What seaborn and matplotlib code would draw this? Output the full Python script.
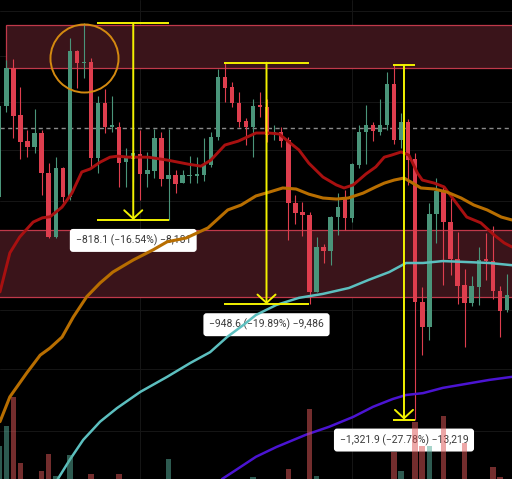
import numpy as np
import matplotlib
matplotlib.use("Agg")
import matplotlib.pyplot as plt
from matplotlib.patches import Rectangle
import seaborn as sns

# candle data (price, log scale chart), one entry per bar
opens = [4216, 4583, 4746, 4545, 4438, 4414, 4471, 4310, 4064, 4330,
         4216, 4821, 4768, 4772, 4369, 4595, 4496, 4496, 4353, 4365,
         4386, 4306, 4318, 4450, 4286, 4302, 4270, 4298, 4298, 4302,
         4341, 4454, 4707, 4664, 4595, 4521, 4496, 4587, 4579, 4467,
         4475, 4442, 4193, 4158, 4147, 3864, 4027, 4012, 4139, 4212,
         4136, 4341, 4475, 4504, 4475, 4504, 4677, 4442, 4517, 4365,
         3829, 3741, 4151, 4243, 4120, 3983, 3889, 3825, 3882, 3983,
         3975, 3868, 3800]
closes = [4583, 4746, 4541, 4434, 4414, 4471, 4310, 4064, 4330, 4216,
          4821, 4768, 4772, 4369, 4595, 4496, 4504, 4349, 4369, 4390,
          4306, 4322, 4450, 4286, 4302, 4266, 4302, 4302, 4306, 4341,
          4454, 4707, 4660, 4595, 4517, 4496, 4583, 4579, 4463, 4475,
          4438, 4193, 4155, 4147, 3864, 4027, 4012, 4139, 4177, 4136,
          4345, 4475, 4504, 4479, 4504, 4677, 4442, 4517, 4361, 3829,
          3741, 4151, 4239, 4120, 3983, 3885, 3825, 3885, 3979, 3975,
          3868, 3797, 3854]
highs = [4591, 4781, 4785, 4664, 4483, 4570, 4483, 4349, 4373, 4334,
         4878, 4825, 4946.2, 4790, 4625, 4655, 4625, 4517, 4410, 4410,
         4483, 4394, 4487, 4475, 4487, 4322, 4322, 4377, 4373, 4450,
         4475, 4741, 4769.2, 4686, 4642, 4533, 4612, 4642, 4612, 4504,
         4496, 4454, 4224, 4196, 4158, 4064, 4038, 4143, 4231, 4243,
         4349, 4504, 4587, 4517, 4612, 4728, 4758.5, 4554, 4529, 4390,
         3882, 4193, 4290, 4259, 4212, 4083, 3946, 3921, 4027, 4079,
         4105, 3885, 3928]
lows = [4208, 4558, 4450, 4365, 4373, 4390, 4224, 4060, 4060, 4196,
        4204, 4660, 4703, 4330, 4310, 4471, 4475, 4255, 4255, 4274,
        4204, 4255, 4290, 4259, 4128.1, 4231, 4270, 4270, 4270, 4278,
        4334, 4442, 4600, 4579, 4496, 4422, 4373, 4537, 4434, 4442,
        4414, 4053, 4113, 4068, 3820.6, 3864, 3968, 3960, 4071, 4090,
        4120, 4330, 4345, 4438, 4463, 4483, 4426, 4410, 4263, 3436.6,
        3646, 3697, 4042, 3889, 3925, 3822, 3673, 3815, 3818, 3907,
        3839, 3707, 3793]
volume = [69, 111, 171, 33, 0, 0, 17, 52, 6, 0,
          50, 0, 0, 10, 0, 0, 0, 10, 0, 0,
          0, 0, 0, 0, 42, 0, 0, 0, 0, 0,
          0, 0, 0, 0, 0, 0, 4, 0, 0, 0,
          0, 21, 0, 0, 146, 6, 0, 0, 0, 0,
          0, 0, 0, 0, 0, 0, 56, 17, 0, 119,
          69, 69, 0, 132, 0, 0, 75, 0, 0, 0,
          25, 4, 0]

# moving averages, read at bar positions
ma_red_x = [0.1, 1.5, 2.9, 4.8, 6.1, 7.2, 8.9, 10.3, 11.7, 12.9, 14.3, 15.7, 16.8,
            18.3, 21.1, 23.9, 26.8, 28.6, 30.0, 32.0, 33.9, 36.4, 38.3, 39.7, 41.1,
            42.5, 43.9, 45.9, 47.8, 48.9, 50.2, 52.0, 53.4, 54.6, 55.6, 57.0, 58.1,
            59.3, 60.0, 61.7, 63.1, 64.5, 66.3, 68.3, 70.2, 71.6, 72.7]
ma_red_y = [3864, 4005, 4064, 4120, 4136, 4140, 4177, 4231, 4314, 4326, 4353, 4373, 4377,
            4373, 4373, 4361, 4345, 4337, 4361, 4422, 4438, 4471, 4471, 4467, 4434,
            4402, 4349, 4294, 4263, 4251, 4263, 4306, 4334, 4373, 4381, 4394, 4381,
            4310, 4282, 4270, 4255, 4204, 4139, 4117, 4071, 4042, 4027]
ma_orange_x = [0.1, 1.5, 3.9, 5.8, 7.2, 8.9, 10.5, 12.4, 14.3, 16.1, 19.0, 21.8, 23.8,
               26.5, 29.6, 32.4, 34.3, 36.4, 38.3, 40.2, 42.1, 43.9, 45.9, 47.8, 49.5,
               51.6, 53.4, 54.6, 56.0, 57.4, 58.4, 59.8, 61.7, 63.5, 65.5, 67.3, 69.2,
               71.2, 72.7]
ma_orange_y = [3430, 3509, 3587, 3646, 3670, 3707, 3776, 3847, 3896, 3935, 3979, 4016, 4046,
               4060, 4098, 4166, 4185, 4220, 4235, 4251, 4247, 4227, 4212, 4208, 4212,
               4231, 4255, 4270, 4282, 4290, 4274, 4251, 4247, 4235, 4212, 4185, 4166,
               4139, 4128]
ma_teal_x = [8.3, 10.0, 11.9, 14.3, 16.7, 20.0, 23.8, 27.1, 29.9, 32.3, 34.6, 36.4,
             39.3, 42.5, 45.9, 49.6, 52.4, 55.3, 57.7, 60.1, 62.9, 65.8, 69.5, 72.7]
ma_teal_y = [3254, 3312, 3373, 3430, 3473, 3525, 3574, 3620, 3656, 3707, 3748, 3783,
             3818, 3843, 3857, 3878, 3907, 3935, 3968, 3968, 3975, 3972, 3968, 3960]
ma_purple_x = [31.6, 33.2, 36.4, 39.3, 43.5, 46.8, 50.2, 53.0, 55.8, 57.7, 60.1,
               62.9, 66.2, 69.5, 72.7]
ma_purple_y = [3254, 3276, 3321, 3351, 3389, 3414, 3445, 3477, 3502, 3515, 3521,
               3538, 3551, 3564, 3574]

# supply / demand zones: (left bar, low price, high price)
zone_starts = [0.95, -3.0]
zone_lows = [4746, 3847]
zone_highs = [4937, 4090]
ref_level = 4491

# price range measurements
meas_x0 = [13.9, 31.9, 55.8]
meas_x1 = [24.1, 43.9, 59.0]
meas_p0 = [4946.2, 4769.2, 4758.5]
meas_p1 = [4128.1, 3820.6, 3436.6]

circle_bar, circle_price = 12.0, 4790

GREEN = "#4a957a"
RED = "#de3e4e"
YELLOW = "#f2f200"

sns.set_theme(style="dark", rc={"axes.facecolor": "#000000",
                                "figure.facecolor": "#000000"})
plt.rcParams["font.family"] = ["Roboto", "DejaVu Sans"]

fig = plt.figure(figsize=(5.12, 4.79), dpi=100)
ax = fig.add_axes([0, 0, 1, 1])
ax.set_yscale("log")
ax.set_xlim(0.1, 72.72)
ax.set_ylim(3254, 5052)

# faint grid
for p in range(3400, 5001, 200):
    ax.axhline(p, color="#161616", lw=0.7, zorder=0.2)
for xv in (20, 50):
    ax.axvline(xv, color="#161616", lw=0.7, zorder=0.2)

for x0, lo, hi in zip(zone_starts, zone_lows, zone_highs):
    ax.add_patch(Rectangle((x0, lo), 100, hi - lo, facecolor="#3a141a",
                           edgecolor="#c0394a", lw=0.9, zorder=0.5))

ax.axhline(ref_level, color="#8a8a8a", lw=1.0, ls=(0, (3, 2.5)), zorder=1)

# candles
o = np.array(opens, float)
c = np.array(closes, float)
idx = np.arange(len(o))
cols = np.where(c >= o, GREEN, RED)
ax.vlines(idx, lows, highs, colors=cols, lw=0.8, zorder=2)
ax.bar(idx, np.abs(c - o), bottom=np.minimum(o, c), width=0.62,
       color=cols, linewidth=0, zorder=2.1)

# moving averages
for xs, ys, col, lw in [(ma_red_x, ma_red_y, "#a81010", 2.1),
                        (ma_orange_x, ma_orange_y, "#b86e00", 2.2),
                        (ma_teal_x, ma_teal_y, "#5cbfbf", 1.8),
                        (ma_purple_x, ma_purple_y, "#4b14d2", 1.8)]:
    sns.lineplot(x=xs, y=ys, ax=ax, color=col, lw=lw, sort=False,
                 estimator=None, zorder=3)

# measurement tool
for x0, x1, p0, p1 in zip(meas_x0, meas_x1, meas_p0, meas_p1):
    mid = (x0 + x1) / 2
    ax.hlines([p0, p1], x0, x1, color=YELLOW, lw=1.4, zorder=4)
    ax.annotate("", xy=(mid, p1), xytext=(mid, p0),
                arrowprops=dict(arrowstyle="->,head_length=0.6,head_width=0.65",
                                color=YELLOW, lw=1.4, shrinkA=0, shrinkB=0,
                                mutation_scale=10), zorder=4)
    diff = p1 - p0
    txt = f"{diff:,.1f} ({diff / p0 * 100:.2f}%) {diff * 10:,.0f}".replace("-", "\u2212")
    ax.annotate(txt, xy=(mid, p1), xytext=(0, -20.5), textcoords="offset pixels",
                ha="center", va="center", fontsize=7.5, color="#3a3a3a", zorder=1.5,
                bbox=dict(boxstyle="round,pad=0.55,rounding_size=0.3",
                          fc="white", ec="none"))

ax.plot(circle_bar, circle_price, marker="o", ms=49, mfc="none",
        mec="#d48a10", mew=1.4, zorder=5)

# volume overlay
ax2 = ax.twinx()
ax2.set_ylim(0, 1000)
vcols = np.where(c >= o, "#57ad9a", "#dd5757")
ax2.bar(idx, volume, width=0.8, color=vcols, alpha=0.52, linewidth=0)

for a in (ax, ax2):
    a.minorticks_off()
    a.set_xticks([])
    a.set_yticks([])
    a.set_xlabel("")
    a.set_ylabel("")
    for s in a.spines.values():
        s.set_visible(False)

fig.savefig("out.png", dpi=100, facecolor="black")
